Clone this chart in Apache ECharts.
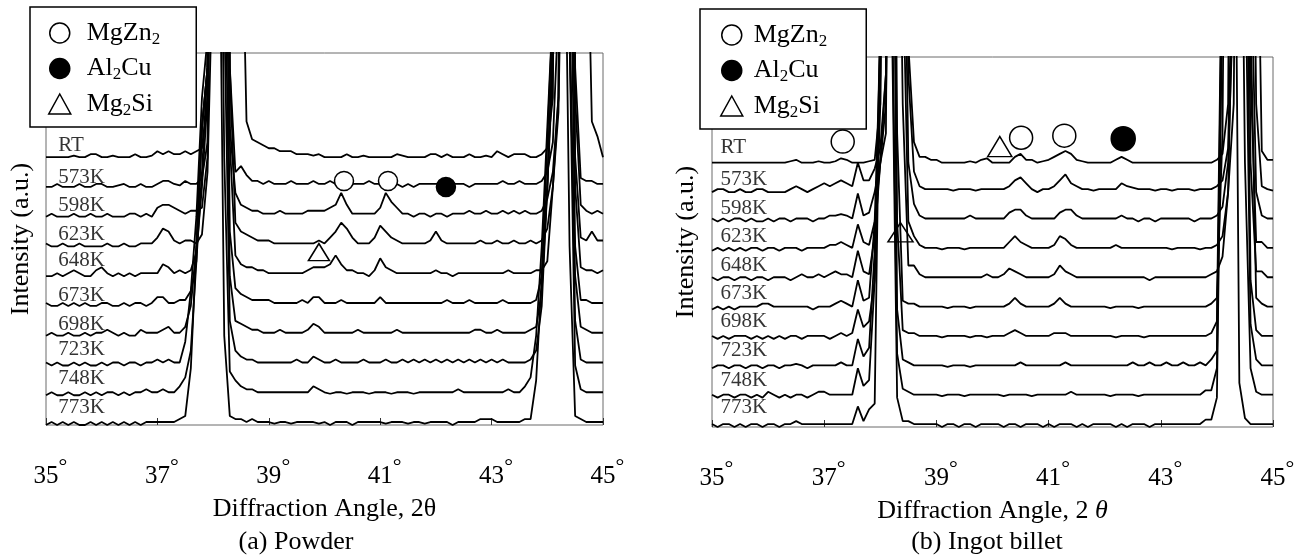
<!DOCTYPE html>
<html><head><meta charset="utf-8">
<script src="https://cdn.jsdelivr.net/npm/echarts@6/dist/echarts.min.js"></script>
<style>html,body{margin:0;padding:0;background:#fff}#c{width:1301px;height:559px}</style>
</head><body><div id="c"></div>
<script>
// ---------- DATA ----------
const angles = [35,35.1,35.2,35.3,35.4,35.5,35.6,35.7,35.8,35.9,36,36.1,36.2,36.3,36.4,36.5,36.6,36.7,36.8,36.9,37,37.1,37.2,37.3,37.4,37.5,37.6,37.7,37.8,37.9,38,38.1,38.2,38.3,38.4,38.5,38.6,38.7,38.8,38.9,39,39.1,39.2,39.3,39.4,39.5,39.6,39.7,39.8,39.9,40,40.1,40.2,40.3,40.4,40.5,40.6,40.7,40.8,40.9,41,41.1,41.2,41.3,41.4,41.5,41.6,41.7,41.8,41.9,42,42.1,42.2,42.3,42.4,42.5,42.6,42.7,42.8,42.9,43,43.1,43.2,43.3,43.4,43.5,43.6,43.7,43.8,43.9,44,44.1,44.2,44.3,44.4,44.5,44.6,44.7,44.8,44.9,45];
const traceLabels = ['RT','573K','598K','623K','648K','673K','698K','723K','748K','773K'];
const xTickLabels = [35,37,39,41,43,45];

// (a) Powder — intensity above each trace's own baseline (a.u.)
const powderRT = [0,0,0,0,0,0.5,0,0,1,1, 0,0,0.5,0,0,0,1,0,0,0.5, 2,1,2,1,1,2,1,2,3,20, 300,300,300,300,300,100,12,6,5,4, 3,3,2,2,2,1,1,1,0.5,1, 0,0,0,0,1,0,0,0.5,0,0, 0,0,0,1,0.5,0,0,0,0,1, 1,0,1,0,0,0,1,0,0,0.5, 0,2,1,0,1,1,1,0,0,1, 3,20,300,300,300,300,300,100,12,7, 0];
const powder573K = [0,0,1,0,0,0,1,0,0,1, 1,0,0,0.5,1,0,0,1,0,0, 1,2,2,1,0.5,2,1,1,3,15, 150,300,300,40,5,7,4,2,2,1, 2,1,1,1,2,1,1,1,2,1, 1,2,1,1,1,1,1,1,2,1, 1,1,0,1,0,1,0,1,1,1, 1,1,2,1,1,1,0,1,1,1, 1,1,2,1,1,2,1,1,1,2, 5,15,60,300,300,40,3,2,2,1, 1];
const powder598K = [0,1,0,0,0,1,0,0,1,0, 0,1,0,0,0,1,1,0,1,0, 3,4,4,3,2,1,2,2,3,20, 200,300,300,30,8,4,3,2,2,1, 1,1,2,1,1,1,1,2,2,2, 2,3,4,8,4,1,1,1,1,1, 3,8,5,3,1,1,0,1,1,0, 1,1,0,1,1,1,2,1,1,2, 1,1,2,1,2,1,2,1,1,2, 6,15,40,300,300,40,4,2,1,2, 1];
const powder623K = [1,0,0,1,0,0,1,0,0,0, 0,1,0,0,1,0,0,1,1,1, 3,6,5,2,1,2,2,1,4,25, 100,300,300,60,8,5,4,3,2,2, 2,1,1,1,1,1,1,1,1,2, 1,3,5,8,6,3,1,1,1,3, 7,5,3,2,1,1,1,1,1,2, 5,2,1,1,1,1,1,1,2,1, 1,2,1,1,2,1,1,2,1,2, 6,20,45,150,250,30,3,2,5,2, 2];
const powder648K = [0,0,1,0,1,2,1,0,0,2, 3,1,0,1,0,1,0,1,1,1, 1,4,3,1,2,1,2,8,30,60, 300,300,300,45,7,4,3,3,2,2, 1,1,1,1,1,1,1,2,3,3, 3,4,7,4,2,2,1,1,0,2, 6,3,2,1,1,1,1,1,1,1, 2,1,1,0,1,1,1,1,1,1, 1,1,1,2,1,1,1,1,2,2, 5,30,60,300,200,30,3,2,2,1, 2];
const powder673K = [1,0,0,1,0,1,0,1,0,0, 1,1,0,0,1,0,1,1,0,1, 3,3,1,1,2,2,5,15,45,80, 200,300,200,25,6,4,3,2,2,2, 2,1,1,1,1,1,2,1,3,3, 1,1,1,2,1,1,1,1,1,1, 3,1,1,1,1,1,1,1,1,1, 1,1,2,1,1,1,2,1,1,1, 1,1,2,1,1,1,1,1,2,10, 40,80,300,300,150,20,2,2,1,1, 1];
const powder698K = [0,1,0,0,1,0,0,1,0,1, 1,2,1,0,1,0,0,2,1,1, 1,2,3,1,1,3,10,30,70,90, 200,300,150,20,5,4,3,2,2,1, 1,1,2,1,1,1,1,2,4,3, 1,1,1,1,1,1,2,1,1,1, 1,1,1,2,1,1,1,1,1,1, 1,1,1,1,1,1,1,2,2,1, 1,2,1,1,1,1,1,2,3,15, 50,100,300,250,100,20,3,2,1,1, 1];
const powder723K = [1,0,1,0,0,1,0,1,0,0, 1,0,1,1,0,1,1,0,1,1, 2,1,2,1,1,8,25,50,90,110, 250,300,120,15,5,3,2,2,1,1, 1,1,1,1,1,2,1,1,3,2, 1,1,2,1,1,1,1,2,1,1, 1,2,1,1,2,1,2,1,2,1, 2,1,2,1,2,1,2,1,2,1, 2,1,2,1,1,1,1,2,5,20, 60,110,300,200,120,15,2,1,1,1, 1];
const powder748K = [0,1,0,0,1,0,0,1,0,1, 0,1,1,0,1,0,1,1,2,1, 1,2,1,1,3,6,15,45,90,110, 250,250,80,8,5,3,2,2,1,1, 1,1,1,1,1,1,1,1,3,2, 1,0.5,1,1,0.5,1,1,1,0.5,1, 1,1,0.5,1,1,1,0.5,1,1,1, 1,1,1,1,2,1,1,1,1,1, 1,1,1,2,1,1,3,6,20,50, 90,130,300,250,120,10,2,1,1,1, 1];
const powder773K = [0,1,0,1,0,1,0,0,1,0, 1,0,1,0,1,0,1,0,1,1, 1,1,1,1,2,3,19,60,100,120, 250,200,30,3,2,2,1,2,1,1, 1,0.5,1,1,0.5,1,1,1,1,0.5, 1,0,1,1,1,0,1,1,1,1, 1,0.5,1,1,1,0.5,1,1,0.5,1, 1,1,1,0,1,1,1,1,2,2, 2,1,1,1,1,1,2,2,15,50, 95,140,300,200,60,3,2,1,1,1, 1];

// (b) Ingot billet
const ingotRT = [0,0,0,0,0,0,0,0,0,0, 0,0,0,0,0.5,1,0,0,0,0.5, 0,0,0.5,1.5,1,0,0,0,0.5,1, 20,300,300,300,300,40,7,2,2,1, 1,0,0,0,0,0,0.5,0,1,1.5, 0,0,0,0,2,3,1,1,0,0.5, 1,2,3,4,3,1,0.5,0,0,0, 0,0,1,2,1,0,0,0,0,0, 0,0,0,0,0,0,0,0,0,0, 1,3,20,300,300,300,300,120,4,1, 1];
const ingot573K = [0,1,1,0,0,1,0,0,1,1, 0,0,0,0,1,2,1,0,1,2, 3,2,3,4,3,2,10,4,4,8, 15,40,300,300,300,40,7,2,1,1, 1,1,1,0.5,1,1,1,0.5,1,1, 1,1,1,2,4,5,3,1,0,1, 1,2,4,6,3,2,1,1,0.5,1, 1,1,1,3,2,1.5,1,1,1,0.5, 1,1,0.5,1,1,1,0.5,1,1,1, 2,4,15,100,300,300,200,30,2,1, 0.5];
const ingot598K = [1,0,1,0,1,1,0,1,0,0, 1,0,1,1,0,1,1,1,0,1, 1,2,2,2.5,2,1,9.5,2,3,10, 20,30,300,300,150,20,6,2,1,1, 1,1,1,1,1,1,2,1,1,1, 1,1,1,3,4,4,2,1,1,1, 1,1,3,4,4,2,1,1,1,1, 1,1,1,2,1,1,0,1,1,0, 1,1,1,1,1,1,0,1,1,1, 2,5,20,80,300,300,100,10,2,1, 1];
const ingot623K = [0,1,0,1,0,1,0,1,1,0, 1,1,0,1,1,1,0,1,1,1, 1,2,2,3,2,1,9,3,2,10, 30,60,300,300,100,10,5,2,1,1, 1,0.5,1,1,1,0.5,1,1,1,1, 1,1,1,3,5,3,2,1,1,1, 1,2,5,4,2,1,1,1,1,1, 1,1,2,1,1,1,1,1,1,1, 1,1,0.5,1,1,1,1,0.5,1,1, 2,5,20,50,300,300,60,3,3,1, 1];
const ingot648K = [1,0,1,1,0,1,1,0,1,1, 0,1,1,1,0,1,2,1,1,2, 1,2,3,2,2,1,10,3,2,15, 40,60,200,200,60,5,5,2,1,1, 1,1,1,1,1,1,1,1,1,2, 1,1,2,4,3,2,1,1,1,1, 1,2,5,3,2,1,1,1,1,1, 1,1,1,1,1,1,1,1,0,1, 1,1,1,1,1,1,1,1,1,2, 3,8,30,120,250,250,40,3,3,1, 1];
const ingot673K = [0,1,0,1,0,1,1,1,1,2, 2,1,1,1,1,1,1,1,0,1, 1,1,2,3,2,1,10,3,4,30, 90,300,300,60,3,2,2,1,1,1, 1,1,0.5,1,1,1,0.5,1,1,1, 1,1,1,2,4,2,1,1,1,1, 1,2,4,2,1,1,1,1,1,1, 1,0.5,1,1,1,1,0.5,1,1,1, 1,1,1,1,1,1,1,1,1,2, 4,60,300,300,300,300,100,4,2,1, 1];
const ingot698K = [1,0,1,0,1,1,1,0,1,0, 1,0,1,0,1,1,0,1,1,1, 1,0,1,2,1,2,10,4,6,20, 80,300,300,40,3,2,2,1,1,1, 1,0.5,1,1,1,1,0.5,1,1,0.5, 1,1,1,2,3,2,1,1,1,1, 1,2,2,2,1,1,1,1,1,1, 1,1,0.5,1,1,1,1,0.5,1,1, 1,1,1,1,1,1,1,1,1,2, 6,150,300,300,300,200,20,3,1,1, 1];
const ingot723K = [0,1,1,0,1,1,0,1,1,0, 1,1,0,1,1,1.5,1,0,1,1, 1,1,1,2,1,1,10,4,7,40, 100,300,250,20,3,2,1,1,1,1, 1,1,0.5,1,1,1,0.5,1,1,1, 1,1,1,1,1,2,1,1,1,1, 1,1,1,2,1,1,1,1,1,1, 1,1,1,1,1,2,1,1,2,1, 1,2,1,1,2,1,1,2,1,3, 6,150,300,300,300,150,15,3,1,1, 1];
const ingot748K = [1,0,1,1,0,1,1,0,1,0, 2,1,0,1,0,1,1,0,1,2, 2,1,1,1,1,1,10,4,6,40, 130,250,150,15,3,2,1,1,1,1, 1,0.5,1,1,1,0.5,1,1,1,1, 1,1,0.5,1,1,1,1,0.5,1,1, 1,1,1,1,2,1,1,1,1,1, 1,0.5,1,1,1,1,0.5,1,1,1, 1,1,1,1,1,1,1,1,2.5,2.5, 10,150,300,300,250,80,10,2,1,1, 1];
const ingot773K = [1,0,1,1,0,1,0,1,1,0, 1,1,0,1,1,2,1,1,1,1, 1,1,1,1,1,1,7,2,6,8, 140,300,150,10,2,2,1,1,1,1, 1,0,1,1,0,1,1,0,1,1, 1,1,0,1,1,0,1,1,1,0, 1,0,1,1,1,0,1,0,1,1, 1,1,0,1,0,1,1,1,0,1, 1,1,1,1,1,1,1,1,2.5,2.5, 10,150,300,250,15,3,1,1,1,1, 1];

// phase markers [angle, intensity in stacked units]
const powderMgZn2 = [[40.35, 82.0], [41.14, 82.0]];
const powderAl2Cu = [[42.18, 80.0]];
const powderMg2Si = [[39.90, 58.1]];
const ingotMgZn2 = [[37.33, 97.2], [40.51, 98.5], [41.28, 99.2]];
const ingotAl2Cu = [[42.33, 98.2]];
const ingotMg2Si = [[40.13, 95.5], [38.36, 66.3]];

// ---------- STYLE / LAYOUT ----------
const FONT = 'Liberation Serif';
const SPACING = 10;
const powderTraces = [powderRT, powder573K, powder598K, powder623K, powder648K, powder673K, powder698K, powder723K, powder748K, powder773K];
const ingotTraces = [ingotRT, ingot573K, ingot598K, ingot623K, ingot648K, ingot673K, ingot698K, ingot723K, ingot748K, ingot773K];
[...powderTraces, ...ingotTraces].forEach((a, i) => { if (a.length !== angles.length) console.error('bad length', i, a.length); });

const liftsA = [4, 2, 4, 4, 8, 3, 4, 8, 9, 10];
const liftsB = [8, 5, 5, 7, 7, 9, 10, 10, 10, 12];

function traceSeries(arrs, gi) {
  const n = arrs.length;
  return arrs.map((arr, i) => ({
    type: 'line', xAxisIndex: gi, yAxisIndex: gi, silent: true, animation: false,
    showSymbol: false, symbol: 'none', clip: true, z: 2,
    lineStyle: { color: '#000', width: 1.8 },
    data: angles.map((a, k) => [a, arr[k] + (n - 1 - i) * SPACING])
  }));
}
function labelSeries(gi, xLab, lifts) {
  const n = traceLabels.length;
  return {
    type: 'scatter', xAxisIndex: gi, yAxisIndex: gi, silent: true, animation: false, z: 6,
    symbolSize: 1, itemStyle: { color: 'rgba(0,0,0,0)' },
    label: { show: true, formatter: '{b}', position: [0, 0], align: 'left', verticalAlign: 'bottom',
      fontFamily: FONT, fontSize: 21, lineHeight: 21, color: '#000' },
    data: traceLabels.map((t, i) => ({ name: t, value: [xLab, (n - 1 - i) * SPACING], label: { offset: [0, 3.5 - lifts[i]] } }))
  };
}
function markerSeries(name, gi, data, symbol, size, fill) {
  return {
    type: 'scatter', name, xAxisIndex: gi, yAxisIndex: gi, silent: true, animation: false, z: 5,
    symbol, symbolSize: size, data,
    itemStyle: { color: fill, borderColor: '#000', borderWidth: 1.5, opacity: 1 }
  };
}
const legendFmt = name => name === 'MgZn2' ? '{g| }{n|MgZn}{s|2}' : name === 'Al2Cu' ? '{g| }{n|Al}{s|2}{n|Cu}' : '{g| }{n|Mg}{s|2}{n|Si}';
function legendCfg(left, top, gap, padL, padR) {
  return {
    left, top, orient: 'vertical', selectedMode: false, itemGap: 7.5, itemWidth: 22, itemHeight: 20,
    padding: [13, padR, 8, padL], backgroundColor: '#fff', borderColor: '#000', borderWidth: 1.5, z: 10,
    data: [
      { name: 'MgZn2', icon: 'circle', itemStyle: { color: '#fff', borderColor: '#000', borderWidth: 1.5 } },
      { name: 'Al2Cu', icon: 'circle', itemStyle: { color: '#000', borderColor: '#000', borderWidth: 1.5 } },
      { name: 'Mg2Si', icon: 'triangle', itemStyle: { color: '#fff', borderColor: '#000', borderWidth: 1.5 } }
    ],
    formatter: legendFmt,
    textStyle: { rich: {
      g: { width: gap, fontSize: 10 },
      n: { fontFamily: FONT, fontSize: 26, lineHeight: 30, color: '#000' },
      s: { fontFamily: FONT, fontSize: 17, lineHeight: 17, verticalAlign: 'bottom', color: '#000' }
    } }
  };
}
const tickRich = {
  p: { width: 9, fontSize: 10 },
  n: { fontFamily: FONT, fontSize: 25, lineHeight: 40, color: '#000' },
  d: { fontFamily: FONT, fontSize: 22, lineHeight: 12, verticalAlign: 'top', width: 9, color: '#000' }
};
function xAxisCfg(gi, nameStr, nameRich) {
  return {
    type: 'value', gridIndex: gi, min: 35, max: 45, interval: 2,
    axisLine: { show: false }, splitLine: { show: false },
    axisTick: { show: true, inside: true, length: 7, lineStyle: { color: '#333', width: 1 } },
    axisLabel: { margin: 31, showMinLabel: true, showMaxLabel: true,
      formatter: v => xTickLabels.includes(v) ? '{p| }{n|' + v + '}{d|°}' : '', rich: tickRich },
    name: nameStr, nameLocation: 'middle', nameGap: 71,
    nameTextStyle: { fontFamily: FONT, fontSize: 26, color: '#000', rich: nameRich }
  };
}
function yAxisCfg(gi, max, gap) {
  return {
    type: 'value', gridIndex: gi, min: 0, max,
    axisLine: { show: false }, axisTick: { show: false }, axisLabel: { show: false }, splitLine: { show: false },
    name: 'Intensity (a.u.)', nameLocation: 'middle', nameRotate: 90, nameGap: gap,
    nameTextStyle: { fontFamily: FONT, fontSize: 26, color: '#000' }
  };
}

const chart = echarts.init(document.getElementById('c'), null, { renderer: 'canvas' });
chart.setOption({
  animation: false,
  backgroundColor: '#fff',
  textStyle: { fontFamily: FONT },
  grid: [
    { left: 46, top: 53, width: 557, height: 372, show: true, borderColor: '#6a6a6a', borderWidth: 1, backgroundColor: 'transparent', containLabel: false, outerBoundsMode: 'none' },
    { left: 712, top: 57, width: 561, height: 370, show: true, borderColor: '#6a6a6a', borderWidth: 1, backgroundColor: 'transparent', containLabel: false, outerBoundsMode: 'none' }
  ],
  xAxis: [
    xAxisCfg(0, 'Diffraction Angle, 2θ', {}),
    xAxisCfg(1, '{r|Diffraction Angle, 2 }{i|θ}', {
      r: { fontFamily: FONT, fontSize: 26, color: '#000' },
      i: { fontFamily: FONT, fontSize: 26, fontStyle: 'italic', color: '#000' }
    })
  ],
  yAxis: [yAxisCfg(0, 125, 12), yAxisCfg(1, 126, 13)],
  legend: [legendCfg(30, 7, 11, 18, 36), legendCfg(700, 9, 6, 20, 39)],
  graphic: [
    { type: 'text', x: 296, y: 542, style: { text: '(a) Powder', font: '26px "Liberation Serif"', fill: '#000', align: 'center', verticalAlign: 'middle', textAlign: 'center', textVerticalAlign: 'middle' } },
    { type: 'text', x: 987, y: 542, style: { text: '(b) Ingot billet', font: '26px "Liberation Serif"', fill: '#000', align: 'center', verticalAlign: 'middle', textAlign: 'center', textVerticalAlign: 'middle' } }
  ],
  series: [
    ...traceSeries(powderTraces, 0),
    ...traceSeries(ingotTraces, 1),
    labelSeries(0, 35.23, liftsA),
    labelSeries(1, 35.16, liftsB),
    markerSeries('MgZn2', 0, powderMgZn2, 'circle', 19, '#fff'),
    markerSeries('Al2Cu', 0, powderAl2Cu, 'circle', 19, '#000'),
    markerSeries('Mg2Si', 0, powderMg2Si, 'triangle', [21, 17], '#fff'),
    markerSeries('MgZn2', 1, ingotMgZn2, 'circle', 23, '#fff'),
    markerSeries('Al2Cu', 1, ingotAl2Cu, 'circle', 24, '#000'),
    markerSeries('Mg2Si', 1, ingotMg2Si.map((p, k) => k === 1 ? { value: p, itemStyle: { color: 'rgba(255,255,255,0)' }, symbolSize: [25, 19] } : p), 'triangle', [24, 20], '#fff')
  ]
});
</script>
</body></html>
